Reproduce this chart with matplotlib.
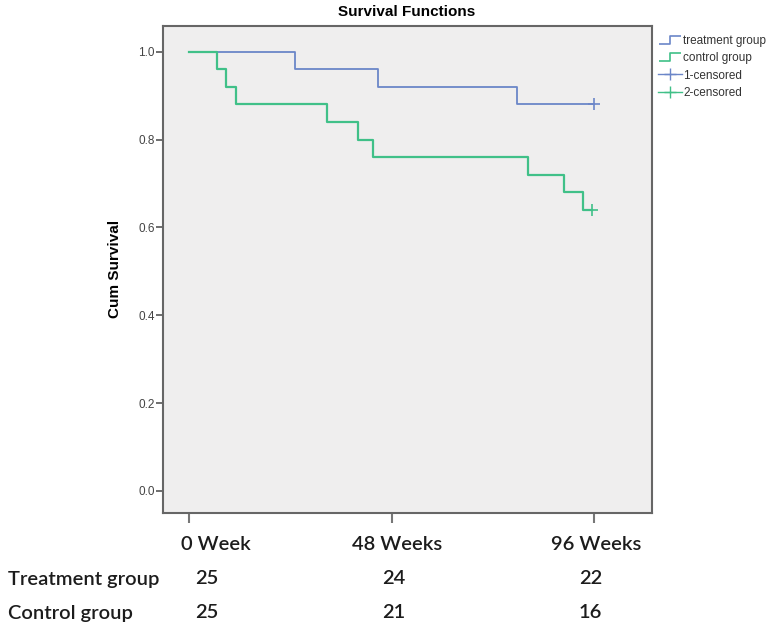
import numpy as np
from matplotlib import pyplot as plt
from matplotlib.lines import Line2D
from matplotlib.path import Path

plt.rcParams['font.family'] = ['Liberation Sans', 'DejaVu Sans']

# step data (weeks, cumulative survival)
treat_t = [0, 25.1, 44.8, 77.7, 96]
treat_s = [1.0, 0.96, 0.92, 0.88, 0.88]
ctrl_t = [0, 6.6, 8.8, 11.1, 32.7, 40.1, 43.6, 80.3, 88.9, 93.4, 95.5]
ctrl_s = [1.0, 0.96, 0.92, 0.88, 0.84, 0.80, 0.76, 0.72, 0.68, 0.64, 0.64]
treat_cens_t = [96]
treat_cens_s = [0.88]
ctrl_cens_t = [95.5]
ctrl_cens_s = [0.64]

week_ticks = [0, 48, 96]
week_labels = ["0 Week", "48 Weeks", "96 Weeks"]
row_names = ["Treatment group", "Control group"]
at_risk = [[25, 24, 22], [25, 21, 16]]

blue = "#6b86c8"
green = "#40c088"

fig = plt.figure(figsize=(7.8, 6.3), dpi=100)
ax = fig.add_axes([0.209, 0.186, 0.627, 0.773])
ax.set_facecolor("#efeeee")

ax.step(treat_t, treat_s, where="post", color=blue, lw=1.3)
ax.step(ctrl_t, ctrl_s, where="post", color=green, lw=1.6)
ax.plot(treat_cens_t, treat_cens_s, "+", color=blue, ms=9, mew=1.2)
ax.plot(ctrl_cens_t, ctrl_cens_s, "+", color=green, ms=9, mew=1.2)

ax.set_xlim(-6.2, 109.7)
ax.set_ylim(-0.05, 1.059)
ax.set_yticks([0.0, 0.2, 0.4, 0.6, 0.8, 1.0])
ax.set_yticklabels(["0.0", "0.2", "0.4", "0.6", "0.8", "1.0"])
ax.set_xticks(week_ticks)
ax.set_xticklabels([])
ax.tick_params(axis="y", length=5, width=1.2, colors="#555555", labelsize=8.5,
               labelcolor="#444444", pad=1)
ax.tick_params(axis="x", length=7, width=1.5, colors="#777777")
for s in ax.spines.values():
    s.set_color("#666666")
    s.set_linewidth(1.5)

ax.set_ylabel("Cum Survival", fontsize=11, fontweight="bold", labelpad=12)
fig.text(0.521, 0.981, "Survival Functions", ha="center", va="center",
         fontsize=11, fontweight="bold")

# legend with little step icons
step_icon = Path([(-1, -0.35), (0, -0.35), (0, 0.35), (1, 0.35)],
                 [Path.MOVETO, Path.LINETO, Path.LINETO, Path.LINETO])
handles = [
    Line2D([], [], marker=step_icon, ls="none", color=blue, ms=16, mew=1.2,
           fillstyle="none"),
    Line2D([], [], marker=step_icon, ls="none", color=green, ms=16, mew=1.2,
           fillstyle="none"),
    Line2D([], [], marker="+", ls="-", color=blue, ms=9, lw=1),
    Line2D([], [], marker="+", ls="-", color=green, ms=9, lw=1),
]
labels = ["treatment group", "control group", "1-censored", "2-censored"]
fig.legend(handles, labels, loc="upper left", bbox_to_anchor=(0.838, 0.952),
           frameon=False, fontsize=8.5, handlelength=2.0, handletextpad=0.1,
           labelspacing=0.45, borderaxespad=0, labelcolor="#333333")

# x labels and number-at-risk table, in a separate font
table_font = dict(family=["Lato", "DejaVu Sans"], fontsize=14.5, color="#1c1c1c",
                  fontweight="semibold")
x0 = ax.transData
for wk, lab, off in zip(week_ticks, week_labels, [27, 5, 2]):
    xp = x0.transform((wk, 0))[0] + off
    fig.text(xp / 780, 1 - 544 / 630, lab, ha="center", va="center", **table_font)
for i, name in enumerate(row_names):
    yy = 1 - (579 + 34 * i) / 630
    fig.text(8 / 780, yy, name, ha="left", va="center", **table_font)
    for wk, n, off in zip(week_ticks, at_risk[i], [18, 2, -4]):
        xp = x0.transform((wk, 0))[0] + off
        fig.text(xp / 780, yy, str(n), ha="center", va="center", **table_font)

fig.savefig("out.png", dpi=100)
